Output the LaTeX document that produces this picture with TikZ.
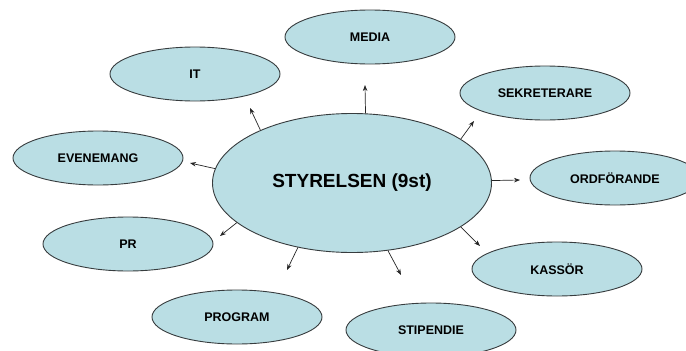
\documentclass[tikz,border=0pt]{standalone}
\usepackage{fontspec}
\setmainfont{Liberation Sans}
\usepackage{tikz}
\usetikzlibrary{arrows.meta,shapes.geometric}
\definecolor{bubblefill}{RGB}{186,222,228}
\definecolor{rim}{RGB}{55,60,62}
\tikzstyle{bubble}=[draw=rim,fill=bubblefill,ellipse,minimum width=170pt,minimum height=54pt,inner sep=0pt,line width=0.9pt,font=\bfseries\fontsize{12.5}{14}\selectfont]
\tikzstyle{hub}=[bubble,minimum width=279pt,minimum height=139pt,font=\bfseries\fontsize{19}{22}\selectfont]
\tikzstyle{link}=[-{Stealth[length=6pt,width=4.5pt]},line width=0.7pt,draw=black!85]

\begin{document}
\begin{tikzpicture}[x=1pt,y=-1pt]
\clip (0,0) rectangle (686,351);
\fill[white] (0,0) rectangle (686,351);

\node [hub] (sty) at (352,183) {STYRELSEN (9st)};

\node [bubble] (media) at (370,37) {MEDIA};
\node [bubble] (it) at (195,74) {IT};
\node [bubble] (sekr) at (545,93) {SEKRETERARE};
\node [bubble] (even) at (98,158) {EVENEMANG};
\node [bubble] (ordf) at (615,178) {ORDFÖRANDE};
\node [bubble] (pr) at (128,244) {PR};
\node [bubble] (kass) at (557,269) {KASSÖR};
\node [bubble] (prog) at (237,317) {PROGRAM};
\node [bubble] (stip) at (431,330) {STIPENDIE};

% arrow tips stop short of the outer bubbles
\coordinate (tomedia) at (365,85);
\coordinate (toit) at (250,108);
\coordinate (tosekr) at (474,121);
\coordinate (toeven) at (190,163);
\coordinate (toordf) at (520,180);
\coordinate (topr) at (220,236);
\coordinate (tokass) at (480,246);
\coordinate (toprog) at (287,270);
\coordinate (tostip) at (401,275);

\draw [link] (sty.79.5) -- (tomedia);
\draw [link] (sty.150.7) -- (toit);
\draw [link] (sty.22.7) -- (tosekr);
\draw [link] (sty.174.7) -- (toeven);
\draw [link] (sty.1.2) -- (toordf);
\draw [link] (sty.199.6) -- (topr);
\draw [link] (sty.-22.4) -- (tokass);
\draw [link] (sty.230.7) -- (toprog);
\draw [link] (sty.-62.8) -- (tostip);
\end{tikzpicture}
\end{document}
